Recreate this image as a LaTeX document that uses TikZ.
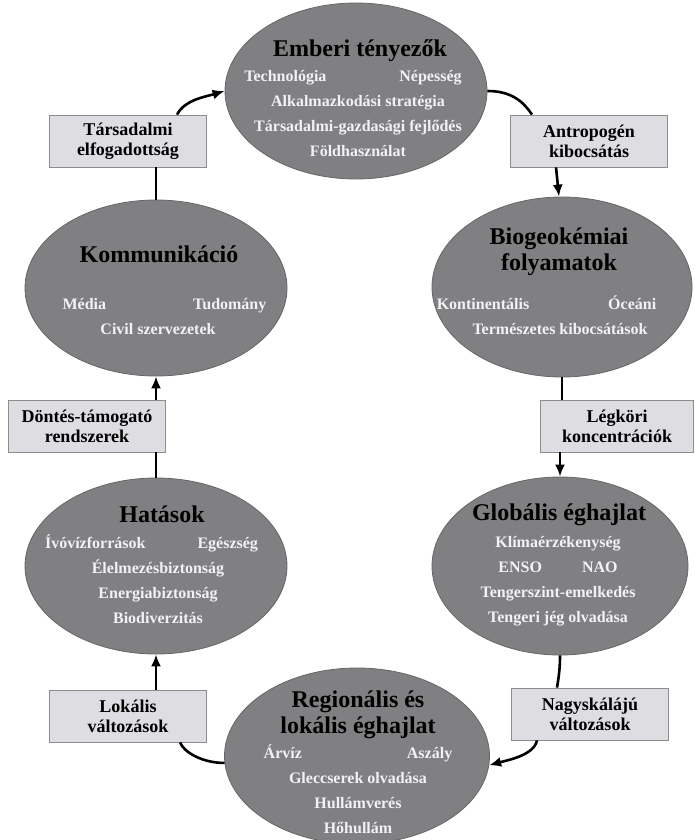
\documentclass[tikz,border=0pt]{standalone}
\usepackage{fontspec}
\setmainfont{Liberation Serif}
\usepackage{tikz}
\usetikzlibrary{positioning,shapes.geometric,arrows.meta}
\definecolor{ovalgray}{RGB}{128,128,131}
\definecolor{boxgray}{RGB}{222,222,226}
\definecolor{itemwhite}{RGB}{242,242,244}
\begin{document}
\begin{tikzpicture}[x=1pt,y=-1pt,>={Latex[length=12pt,width=10pt]},line width=2.6pt,
  every node/.style={font=\bfseries},
  oval/.style={ellipse,draw=black!60,line width=0.8pt,fill=ovalgray,minimum width=262pt,minimum height=176pt,inner sep=0pt},
  headline/.style={anchor=base,align=center,font=\fontsize{24}{26}\selectfont\bfseries},
  items/.style={anchor=base,align=center,text=itemwhite,font=\fontsize{16}{25}\selectfont\bfseries},
  linkbox/.style={rectangle,draw=black!45,line width=0.8pt,fill=boxgray,minimum width=157pt,minimum height=52pt,inner sep=0pt,align=center,font=\fontsize{18}{20}\selectfont\bfseries}]
\useasboundingbox (0,0) rectangle (695,840);

\node[oval] (Emberi) at (356,91) {};
\node[oval] (Komm) at (156,288) {};
\node[oval,minimum width=260pt,minimum height=180pt] (Bio) at (562,287) {};
\node[oval] (Hatasok) at (156,566) {};
\node[oval,minimum width=256pt,minimum height=178pt] (Glob) at (560,566) {};
\node[oval,minimum width=265pt] (Reg) at (357,756) {};

\node[headline] (EmberiT) at (360,57) {Emberi tényezők};
\node[items] (EmberiL) at (358,157) {Technológia\hspace{73pt}Népesség\hspace*{10pt}\\Alkalmazkodási stratégia\\Társadalmi-gazdasági fejlődés\\Földhasználat};

\node[headline] (KommT) at (159,262) {Kommunikáció};
\node[items] (KommL) at (158,334) {\hspace*{13pt}Média\hspace{87pt}Tudomány\\Civil szervezetek};

\node[headline] (BioT) at (559,270) {Biogeokémiai\\folyamatok};
\node[items] (BioL) at (560,334) {Kontinentális\hspace{79pt}Óceáni\hspace*{27pt}\\Természetes kibocsátások};

\node[headline] (HatasokT) at (162,522) {Hatások};
\node[items] (HatasokL) at (158,623) {Ívóvízforrások\hspace{52pt}Egészség\hspace*{13pt}\\Élelmezésbiztonság\\Energiabiztonság\\Biodiverzitás};

\node[headline] (GlobT) at (559,520) {Globális éghajlat};
\node[items] (GlobL) at (558,622) {Klímaérzékenység\\ENSO\hspace{40pt}NAO\\Tengerszint-emelkedés\\Tengeri jég olvadása};

\node[headline] (RegT) at (358,733) {Regionális és\\lokális éghajlat};
\node[items] (RegL) at (358,833) {Árvíz\hspace{105pt}Aszály\\Gleccserek olvadása\\Hullámverés\\Hőhullám};

\node[linkbox] (Tars) at (128,141) {Társadalmi\\elfogadottság};
\node[linkbox] (Antro) at (589,141) {Antropogén\\kibocsátás};
\node[linkbox] (Dontes) at (87,426) {Döntés-támogató\\rendszerek};
\node[linkbox,minimum width=153pt] (Legkori) at (617,426) {Légköri\\koncentrációk};
\node[linkbox] (Lokalis) at (128,716) {Lokális\\változások};
\node[linkbox] (Nagy) at (590,714) {Nagyskálájú\\változások};

\draw (Komm.north) -- (Komm.north |- Tars.south);
\draw[->] ([xshift=49pt]Tars.north) .. controls +(8,-15) and +(-20,6) .. (Emberi.west);
\draw (Emberi.east) .. controls +(25,0) and +(-8,-12) .. ([xshift=-57pt]Antro.north);
\draw[->] ([xshift=-33pt]Antro.south) -- ([xshift=-3pt]Bio.north);
\draw (Bio.south) -- (Bio.south |- Legkori.north);
\draw[->] (Glob.north |- Legkori.south) -- (Glob.north);
\draw (Glob.south) .. controls +(0,12) and +(2,-12) .. ([xshift=-33pt]Nagy.north);
\draw[->] ([xshift=-53pt]Nagy.south) .. controls +(-3,15) and +(18,-5) .. (Reg.-4);
\draw (Reg.183) .. controls +(-22,0) and +(4,10) .. ([xshift=52pt]Lokalis.south);
\draw[->] (Hatasok.south |- Lokalis.north) -- (Hatasok.south);
\draw (Hatasok.north) -- (Hatasok.north |- Dontes.south);
\draw[->] (Komm.south |- Dontes.north) -- (Komm.south);
\end{tikzpicture}
\end{document}
